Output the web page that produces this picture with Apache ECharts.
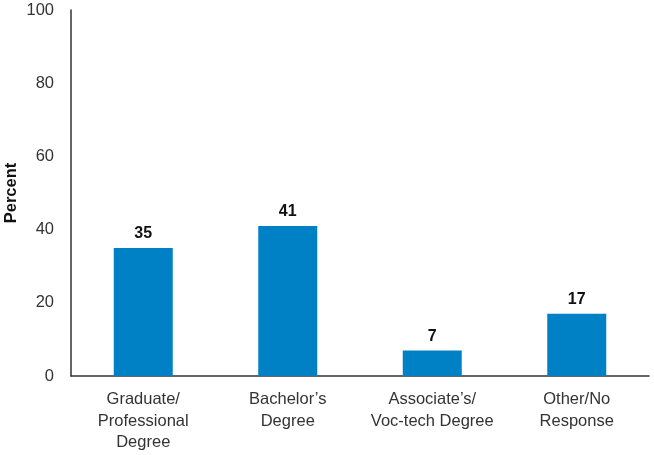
<!DOCTYPE html>
<html><head><meta charset="utf-8">
<script src="https://cdn.jsdelivr.net/npm/echarts@6/dist/echarts.min.js"></script>
<style>html,body{margin:0;padding:0;background:#fff}#c{width:654px;height:455px}</style>
</head><body><div id="c"></div>
<script>
var categories = ["Graduate/\nProfessional\nDegree", "Bachelor\u2019s\nDegree", "Associate\u2019s/\nVoc-tech Degree", "Other/No\nResponse"];
var values = [35, 41, 7, 17];
var yTicks = [0, 20, 40, 60, 80, 100];
var chart = echarts.init(document.getElementById('c'));
var font = "'Liberation Sans', Arial, sans-serif";
chart.setOption({
  animation: false,
  grid: {left: 71, right: 5, top: 10, bottom: 79, containLabel: false, outerBoundsMode: 'none'},
  xAxis: {
    type: 'category', data: categories,
    axisLine: {lineStyle: {color: '#333', width: 1.5}},
    axisTick: {show: false},
    axisLabel: {color: '#333', fontSize: 16.5, fontFamily: font, lineHeight: 21.5, margin: 13, interval: 0}
  },
  yAxis: {
    type: 'value', min: yTicks[0], max: yTicks[yTicks.length-1], interval: 20,
    name: 'Percent', nameLocation: 'middle', nameGap: 51, nameMoveOverlap: false,
    nameTextStyle: {color: '#111', fontSize: 16.5, fontWeight: 'bold', fontFamily: font},
    axisLine: {show: true, lineStyle: {color: '#333', width: 1.5}},
    axisTick: {show: false},
    splitLine: {show: false},
    axisLabel: {color: '#333', fontSize: 16.5, fontFamily: font, margin: 17}
  },
  series: [{
    type: 'bar', data: values, barWidth: 59,
    itemStyle: {color: '#0081C6'},
    label: {show: true, position: 'top', distance: 6, color: '#111', fontSize: 16, fontWeight: 'bold', fontFamily: font}
  }]
});
</script></body></html>
